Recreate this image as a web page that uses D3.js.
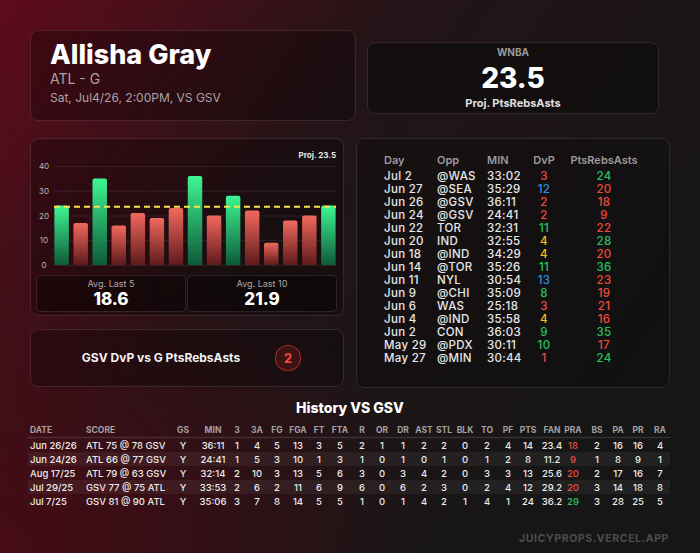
<!DOCTYPE html>
<html>
<head>
<meta charset="utf-8">
<script src="https://cdn.jsdelivr.net/npm/d3@7"></script>
<style>
  html, body { margin: 0; padding: 0; background: #141414; }
  svg { display: block; font-family: Inter, "Noto Sans", sans-serif; }
</style>
</head>
<body>
<svg id="card"></svg>
<script>
// recent games, newest first
const gameDays = ["Jul 2", "Jun 27", "Jun 26", "Jun 24", "Jun 22", "Jun 20", "Jun 18", "Jun 14", "Jun 11", "Jun 9", "Jun 6", "Jun 4", "Jun 2", "May 29", "May 27"];
const opponents = ["@WAS", "@SEA", "@GSV", "@GSV", "TOR", "IND", "@IND", "@TOR", "NYL", "@CHI", "WAS", "@IND", "CON", "@PDX", "@MIN"];
const minutes = ["33:02", "35:29", "36:11", "24:41", "32:31", "32:55", "34:29", "35:26", "30:54", "35:09", "25:18", "35:58", "36:03", "30:11", "30:44"];
const dvpRanks = [3, 12, 2, 2, 11, 4, 4, 11, 13, 8, 3, 4, 9, 10, 1];
const praValues = [24, 20, 18, 9, 22, 28, 20, 36, 23, 19, 21, 16, 35, 17, 24];
const projection = 23.5;
const yTicks = [0, 10, 20, 30, 40];

// history vs GSV
const histColumns = ["DATE", "SCORE", "GS", "MIN", "3", "3A", "FG", "FGA", "FT", "FTA", "R", "OR", "DR", "AST", "STL", "BLK", "TO", "PF", "PTS", "FAN", "PRA", "BS", "PA", "PR", "RA"];
const histDates = ["Jun 26/26", "Jun 24/26", "Aug 17/25", "Jul 29/25", "Jul 7/25"];
const histScores = ["ATL 75 @ 78 GSV", "ATL 66 @ 77 GSV", "ATL 79 @ 63 GSV", "GSV 77 @ 75 ATL", "GSV 81 @ 90 ATL"];
const histStarted = ["Y", "Y", "Y", "Y", "Y"];
const histMinutes = ["36:11", "24:41", "32:14", "33:53", "35:06"];
const histStats = [
  [1, 4, 5, 13, 3, 5, 2, 1, 1, 2, 2, 0, 2, 4, 14, "23.4", 18, 2, 16, 16, 4],
  [1, 5, 3, 10, 1, 3, 1, 0, 1, 0, 1, 0, 1, 2, 8, "11.2", 9, 1, 8, 9, 1],
  [2, 10, 3, 13, 5, 6, 3, 0, 3, 4, 2, 0, 3, 3, 13, "25.6", 20, 2, 17, 16, 7],
  [2, 6, 2, 11, 6, 9, 6, 0, 6, 2, 3, 0, 2, 4, 12, "29.2", 20, 3, 14, 18, 8],
  [3, 7, 8, 14, 5, 5, 1, 0, 1, 4, 2, 1, 4, 1, 24, "36.2", 29, 3, 28, 25, 5]
];

const W = 700, H = 553;
const svg = d3.select("#card").attr("width", W).attr("height", H);
const defs = svg.append("defs");

// background
const bg = defs.append("linearGradient").attr("id", "bg")
  .attr("x1", 0).attr("y1", 0).attr("x2", 1).attr("y2", 0.55);
bg.append("stop").attr("offset", "0%").attr("stop-color", "#5e0b1b");
bg.append("stop").attr("offset", "45%").attr("stop-color", "#231417");
bg.append("stop").attr("offset", "100%").attr("stop-color", "#161616");
const bg2 = defs.append("radialGradient").attr("id", "bg2")
  .attr("cx", 0).attr("cy", 1).attr("r", 0.6);
bg2.append("stop").attr("offset", "0%").attr("stop-color", "#4a0a14").attr("stop-opacity", 0.9);
bg2.append("stop").attr("offset", "100%").attr("stop-color", "#4a0a14").attr("stop-opacity", 0);
svg.append("rect").attr("width", W).attr("height", H).attr("fill", "url(#bg)");
svg.append("rect").attr("width", W).attr("height", H).attr("fill", "url(#bg2)");

function card(x, y, w, h, fill) {
  svg.append("rect").attr("x", x + 0.5).attr("y", y + 0.5).attr("width", w).attr("height", h)
    .attr("rx", 8).attr("fill", fill || "rgba(0,0,0,0.28)")
    .attr("stroke", "rgba(255,255,255,0.1)").attr("stroke-width", 1);
}

// header
card(30, 30, 325, 90);
svg.append("text").attr("x", 50).attr("y", 64).attr("fill", "#fff")
  .attr("font-size", 27).attr("font-weight", 800).text("Allisha Gray");
svg.append("text").attr("x", 50).attr("y", 84).attr("fill", "#a9a3a5")
  .attr("font-size", 14).text("ATL - G");
svg.append("text").attr("x", 50).attr("y", 102).attr("fill", "#a9a3a5")
  .attr("font-size", 12).text("Sat, Jul4/26, 2:00PM, VS GSV");

card(367, 42, 291, 71, "rgba(10,10,10,0.55)");
svg.append("text").attr("x", 513).attr("y", 56).attr("text-anchor", "middle")
  .attr("fill", "#9a9a9a").attr("font-size", 10).attr("font-weight", 700).text("WNBA");
svg.append("text").attr("x", 513).attr("y", 88).attr("text-anchor", "middle")
  .attr("fill", "#fff").attr("font-size", 28).attr("font-weight", 800).text(projection.toFixed(1));
svg.append("text").attr("x", 513).attr("y", 107).attr("text-anchor", "middle")
  .attr("fill", "#e0e0e0").attr("font-size", 11).attr("font-weight", 700).text("Proj. PtsRebsAsts");

// bar chart card
card(30, 138, 313, 177);
const chartVals = praValues.slice().reverse();
const x = d3.scaleBand().domain(d3.range(chartVals.length)).range([54, 336])
  .paddingInner(0.24).paddingOuter(0.02);
const y = d3.scaleLinear().domain([0, 40]).range([265, 166]);

svg.append("g").attr("transform", "translate(54,0)")
  .call(d3.axisLeft(y).tickValues(yTicks).tickSize(-282).tickFormat(""))
  .call(g => g.select(".domain").remove())
  .call(g => g.selectAll("line").attr("stroke", "rgba(255,255,255,0.08)"));
svg.append("g").selectAll("text").data(yTicks).join("text")
  .attr("x", 44).attr("y", d => y(d) + 3).attr("text-anchor", "middle")
  .attr("fill", "#bdb5b7").attr("font-size", 8).text(d => d);

const gGreen = defs.append("linearGradient").attr("id", "gGreen").attr("x1", 0).attr("y1", 0).attr("x2", 0).attr("y2", 1);
gGreen.append("stop").attr("offset", "0%").attr("stop-color", "#3ef793");
gGreen.append("stop").attr("offset", "100%").attr("stop-color", "#0d5a38");
const gRed = defs.append("linearGradient").attr("id", "gRed").attr("x1", 0).attr("y1", 0).attr("x2", 0).attr("y2", 1);
gRed.append("stop").attr("offset", "0%").attr("stop-color", "#f2695d");
gRed.append("stop").attr("offset", "100%").attr("stop-color", "#5e1a1c");

svg.append("g").selectAll("path").data(chartVals).join("path")
  .attr("fill", d => d >= projection ? "url(#gGreen)" : "url(#gRed)")
  .attr("d", (d, i) => {
    const x0 = x(i), w = x.bandwidth(), top = y(d), b = y(0), r = 2;
    return `M${x0},${b}V${top + r}Q${x0},${top} ${x0 + r},${top}H${x0 + w - r}Q${x0 + w},${top} ${x0 + w},${top + r}V${b}Z`;
  });

defs.append("filter").attr("id", "glow").attr("x", "-5%").attr("y", "-200%").attr("width", "110%").attr("height", "500%")
  .append("feGaussianBlur").attr("stdDeviation", 2);
svg.append("line").attr("x1", 54).attr("x2", 336).attr("y1", y(projection)).attr("y2", y(projection))
  .attr("stroke", "#f5e23a").attr("stroke-width", 5).attr("stroke-dasharray", "6,4")
  .attr("opacity", 0.55).attr("filter", "url(#glow)");
svg.append("line").attr("x1", 54).attr("x2", 336).attr("y1", y(projection)).attr("y2", y(projection))
  .attr("stroke", "#f7e54a").attr("stroke-width", 2).attr("stroke-dasharray", "6,4");
svg.append("text").attr("x", 336).attr("y", 158).attr("text-anchor", "end")
  .attr("fill", "#e8e8e8").attr("font-size", 8).attr("font-weight", 700).text(`Proj. ${projection}`);

const avg5 = d3.mean(praValues.slice(0, 5));
const avg10 = d3.mean(praValues.slice(0, 10));
[[36, "Avg. Last 5", avg5], [187, "Avg. Last 10", avg10]].forEach(([bx, label, v]) => {
  svg.append("rect").attr("x", bx + 0.5).attr("y", 275.5).attr("width", 149).attr("height", 36).attr("rx", 4)
    .attr("fill", "rgba(0,0,0,0.35)").attr("stroke", "rgba(255,255,255,0.1)");
  svg.append("text").attr("x", bx + 75).attr("y", 287).attr("text-anchor", "middle")
    .attr("fill", "#b0a8aa").attr("font-size", 9).text(label);
  svg.append("text").attr("x", bx + 75).attr("y", 305).attr("text-anchor", "middle")
    .attr("fill", "#fff").attr("font-size", 17).attr("font-weight", 800).text(v.toFixed(1));
});

// DvP card
card(30, 329, 313, 57);
svg.append("text").attr("x", 161).attr("y", 362).attr("text-anchor", "middle")
  .attr("fill", "#f2f2f2").attr("font-size", 12).attr("font-weight", 700).text("GSV DvP vs G PtsRebsAsts");
svg.append("circle").attr("cx", 288).attr("cy", 358).attr("r", 12.5)
  .attr("fill", "#3b1112").attr("stroke", "#9b2a26").attr("stroke-width", 1.2);
svg.append("text").attr("x", 288).attr("y", 363).attr("text-anchor", "middle")
  .attr("fill", "#f24c3d").attr("font-size", 13).attr("font-weight", 700).text(dvpRanks[2]);

// recent games table
card(356, 138, 313, 249, "rgba(10,10,10,0.45)");
const cols = [
  { name: "Day", x: 384, anchor: "start" },
  { name: "Opp", x: 437, anchor: "start" },
  { name: "MIN", x: 487, anchor: "start" },
  { name: "DvP", x: 544, anchor: "middle" },
  { name: "PtsRebsAsts", x: 604, anchor: "middle" }
];
svg.append("g").selectAll("text").data(cols).join("text")
  .attr("x", d => d.x).attr("y", 164).attr("text-anchor", d => d.anchor)
  .attr("fill", "#9e9a9c").attr("font-size", 11).attr("font-weight", 600).text(d => d.name);

const dvpColor = r => r <= 3 ? "#ef4b3c" : r <= 5 ? "#efc31f" : r <= 11 ? "#27c25f" : "#2f8fdc";
const rowY = i => 180 + i * 13;
const rows = svg.append("g").selectAll("g").data(gameDays).join("g")
  .attr("font-size", 11.5).attr("font-weight", 500).attr("letter-spacing", 0.3);
rows.append("text").attr("x", 384).attr("y", (d, i) => rowY(i)).attr("fill", "#e8e8e8").text(d => d);
rows.append("text").attr("x", 437).attr("y", (d, i) => rowY(i)).attr("fill", "#e8e8e8").text((d, i) => opponents[i]);
rows.append("text").attr("x", 487).attr("y", (d, i) => rowY(i)).attr("fill", "#e8e8e8").text((d, i) => minutes[i]);
rows.append("text").attr("x", 544).attr("y", (d, i) => rowY(i)).attr("text-anchor", "middle")
  .attr("fill", (d, i) => dvpColor(dvpRanks[i])).text((d, i) => dvpRanks[i]);
rows.append("text").attr("x", 604).attr("y", (d, i) => rowY(i)).attr("text-anchor", "middle")
  .attr("fill", (d, i) => praValues[i] >= projection ? "#27c25f" : "#ef4b3c").text((d, i) => praValues[i]);

// history table
svg.append("text").attr("x", 350).attr("y", 413).attr("text-anchor", "middle")
  .attr("fill", "#fff").attr("font-size", 14).attr("font-weight", 800).text("History VS GSV");

const histX = [30, 86, 183, 213, 237, 257, 277, 298, 319, 340, 362, 382, 403, 424, 444, 465, 487, 508, 528, 552, 573, 597, 618, 638, 660];
const histAnchor = i => i < 2 ? "start" : "middle";
svg.append("g").selectAll("text").data(histColumns).join("text")
  .attr("x", (d, i) => histX[i]).attr("y", 433).attr("text-anchor", (d, i) => histAnchor(i))
  .attr("fill", "#a5a0a2").attr("font-size", 8.5).attr("font-weight", 700).text(d => d);
svg.append("line").attr("x1", 28).attr("x2", 670).attr("y1", 437.5).attr("y2", 437.5)
  .attr("stroke", "rgba(255,255,255,0.12)").attr("stroke-width", 1.5);

const hy = i => 438 + i * 14;
svg.append("g").selectAll("rect").data(histDates).join("rect")
  .attr("x", 28).attr("y", (d, i) => hy(i)).attr("width", 642).attr("height", 14)
  .attr("fill", (d, i) => i % 2 ? "rgba(255,255,255,0.05)" : "none");

histDates.forEach((date, r) => {
  const cells = [date, histScores[r], histStarted[r], histMinutes[r]].concat(histStats[r]);
  svg.append("g").selectAll("text").data(cells).join("text")
    .attr("x", (d, i) => histX[i]).attr("y", hy(r) + 10.5).attr("text-anchor", (d, i) => histAnchor(i))
    .attr("font-size", 9.5).attr("font-weight", 500)
    .attr("fill", (d, i) => histColumns[i] === "PRA" ? (d >= projection ? "#27c25f" : "#ef4b3c") : "#ececec")
    .text(d => d);
});

svg.append("text").attr("x", 669).attr("y", 542).attr("text-anchor", "end")
  .attr("fill", "#4d4d4d").attr("font-size", 10.5).attr("font-weight", 700).attr("letter-spacing", 0.6)
  .text("JUICYPROPS.VERCEL.APP");
</script>
</body>
</html>
